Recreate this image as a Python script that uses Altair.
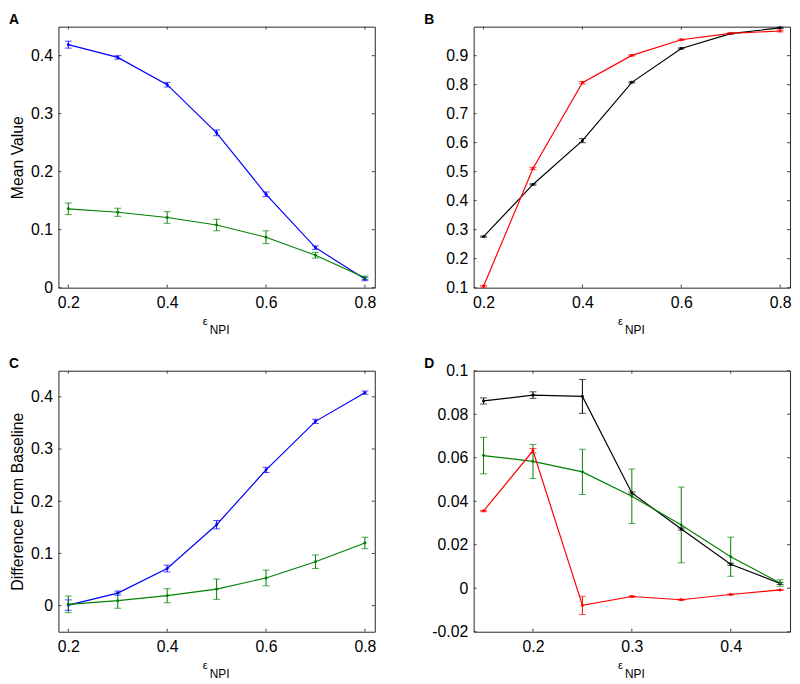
import altair as alt
import pandas as pd

FONT = "Liberation Sans"
W, H = 320, 264

# ---------------- data ----------------
x_main = [0.2, 0.3, 0.4, 0.5, 0.6, 0.7, 0.8]
x_D = [0.15, 0.2, 0.25, 0.3, 0.35, 0.4, 0.45]

A_blue = [0.419, 0.397, 0.350, 0.267, 0.161, 0.069, 0.015]
A_blue_err = [0.006, 0.003, 0.004, 0.005, 0.004, 0.003, 0.003]
A_green = [0.136, 0.130, 0.121, 0.108, 0.087, 0.056, 0.017]
A_green_err = [0.010, 0.007, 0.010, 0.010, 0.011, 0.005, 0.003]

B_black = [0.276, 0.456, 0.607, 0.808, 0.925, 0.976, 0.996]
B_black_err = [0.002, 0.002, 0.007, 0.002, 0.002, 0.001, 0.002]
B_red = [0.105, 0.511, 0.807, 0.901, 0.955, 0.977, 0.985]
B_red_err = [0.003, 0.004, 0.004, 0.002, 0.002, 0.002, 0.003]

C_blue = [0.001, 0.024, 0.071, 0.155, 0.260, 0.353, 0.408]
C_blue_err = [0.010, 0.004, 0.0065, 0.008, 0.005, 0.004, 0.003]
C_green = [0.0025, 0.0095, 0.019, 0.0315, 0.053, 0.084, 0.120]
C_green_err = [0.016, 0.0145, 0.0135, 0.0195, 0.015, 0.013, 0.011]

D_black = [0.0861, 0.0888, 0.0882, 0.0438, 0.0272, 0.0110, 0.0022]
D_black_err = [0.0014, 0.0015, 0.0078, 0.0005, 0.0005, 0.0005, 0.0005]
D_green = [0.0610, 0.0583, 0.0535, 0.0423, 0.0291, 0.0145, 0.0024]
D_green_err = [0.0084, 0.0078, 0.0104, 0.0125, 0.0174, 0.0090, 0.0015]
D_red = [0.0355, 0.0632, -0.0079, -0.0038, -0.0053, -0.0029, -0.0008]
D_red_err = [0.0003, 0.0010, 0.0042, 0.0003, 0.0003, 0.0002, 0.0002]

SERIES = ["blue", "green", "black", "red"]
COLORS = ["#0000ff", "#008000", "#000000", "#ff0000"]


def frame(xs, parts):
    rows = []
    for name, ys, es in parts:
        for x, y, e in zip(xs, ys, es):
            rows.append({"x": x, "y": y, "lo": y - e, "hi": y + e, "series": name})
    return pd.DataFrame(rows)


def panel(df, xdom, ydom, xticks, yticks, letter, ytitle=None):
    xs = alt.Scale(domain=xdom, nice=False, zero=False)
    ys = alt.Scale(domain=ydom, nice=False, zero=False)
    xaxis = alt.Axis(values=xticks, ticks=False, domain=False, grid=False,
                     labelPadding=7, format="~g")
    ykw = dict(values=yticks, ticks=False, domain=False, grid=False, labelPadding=6,
               labelExpr="datum.value < 0 ? '-' + format(-datum.value, '~g') : format(datum.value, '~g')")
    if ytitle:
        yaxis = alt.Axis(title=ytitle, titlePadding=5, **ykw)
    else:
        yaxis = alt.Axis(title=None, **ykw)

    X = alt.X("x:Q", scale=xs, axis=xaxis, title=None)
    Y = alt.Y("y:Q", scale=ys, axis=yaxis)
    Ylo = alt.Y("lo:Q", scale=ys, axis=yaxis)
    Yhi = alt.Y("hi:Q", scale=ys, axis=yaxis)
    col = alt.Color("series:N", scale=alt.Scale(domain=SERIES, range=COLORS), legend=None)

    base = alt.Chart(df)
    line = base.mark_line(strokeWidth=1.2).encode(x=X, y=Y, color=col)
    err = base.mark_rule(strokeWidth=1).encode(x=X, y=Ylo, y2="hi:Q", color=col)
    cap_lo = base.mark_tick(orient="horizontal", size=7, thickness=1).encode(x=X, y=Ylo, color=col)
    cap_hi = base.mark_tick(orient="horizontal", size=7, thickness=1).encode(x=X, y=Yhi, color=col)
    pts = base.mark_circle(size=9, opacity=1).encode(x=X, y=Y, color=col)

    xt = alt.Chart(pd.DataFrame({"x": xticks}))
    yt = alt.Chart(pd.DataFrame({"y": yticks}))
    tick_style = dict(color="#404040", strokeWidth=1)
    tb = xt.mark_rule(**tick_style).encode(x=X, y=alt.value(H), y2=alt.value(H - 3))
    tt = xt.mark_rule(**tick_style).encode(x=X, y=alt.value(0), y2=alt.value(3))
    tl = yt.mark_rule(**tick_style).encode(y=Y, x=alt.value(0), x2=alt.value(3))
    tr = yt.mark_rule(**tick_style).encode(y=Y, x=alt.value(W - 3), x2=alt.value(W))

    lab = alt.Chart(pd.DataFrame({"t": [letter]})).mark_text(
        align="left", baseline="top", fontSize=14, fontWeight="bold", font=FONT, color="black"
    ).encode(text="t:N", x=alt.value(-50), y=alt.value(-14))
    eps = alt.Chart(pd.DataFrame({"t": ["ε"]})).mark_text(
        align="left", baseline="alphabetic", fontSize=11, font=FONT, color="black"
    ).encode(text="t:N", x=alt.value(W / 2 - 14), y=alt.value(H + 38))
    npi = alt.Chart(pd.DataFrame({"t": ["NPI"]})).mark_text(
        align="left", baseline="alphabetic", fontSize=12, font=FONT, color="black"
    ).encode(text="t:N", x=alt.value(W / 2 - 7), y=alt.value(H + 47))

    return alt.layer(tb, tt, tl, tr, line, err, cap_lo, cap_hi, pts, lab, eps, npi).properties(
        width=W, height=H
    )


dfA = frame(x_main, [("blue", A_blue, A_blue_err), ("green", A_green, A_green_err)])
dfB = frame(x_main, [("black", B_black, B_black_err), ("red", B_red, B_red_err)])
dfC = frame(x_main, [("blue", C_blue, C_blue_err), ("green", C_green, C_green_err)])
dfD = frame(x_D, [("black", D_black, D_black_err), ("green", D_green, D_green_err), ("red", D_red, D_red_err)])

pA = panel(dfA, [0.18, 0.82], [0, 0.45], [0.2, 0.4, 0.6, 0.8], [0, 0.1, 0.2, 0.3, 0.4], "A", "Mean Value")
pB = panel(dfB, [0.18, 0.82], [0.1, 1.0], [0.2, 0.4, 0.6, 0.8],
           [0.1, 0.2, 0.3, 0.4, 0.5, 0.6, 0.7, 0.8, 0.9], "B")
pC = panel(dfC, [0.18, 0.82], [-0.05, 0.45], [0.2, 0.4, 0.6, 0.8], [0, 0.1, 0.2, 0.3, 0.4], "C",
           "Difference From Baseline")
pD = panel(dfD, [0.14, 0.46], [-0.02, 0.1], [0.2, 0.3, 0.4],
           [-0.02, 0, 0.02, 0.04, 0.06, 0.08, 0.1], "D")

chart = alt.concat(
    pA, pB, pC, pD, columns=2, spacing={"row": 84, "column": 100}, bounds="flush", padding=0,
    background="white"
).resolve_scale(x="independent", y="independent").configure_view(
    stroke="#262626", strokeWidth=1
).configure_axis(
    labelFont=FONT, labelFontSize=16, labelColor="black",
    titleFont=FONT, titleFontSize=16, titleFontWeight="normal", titleColor="black"
)

chart.save("out.html", embed_options={"renderer": "svg", "actions": False})
